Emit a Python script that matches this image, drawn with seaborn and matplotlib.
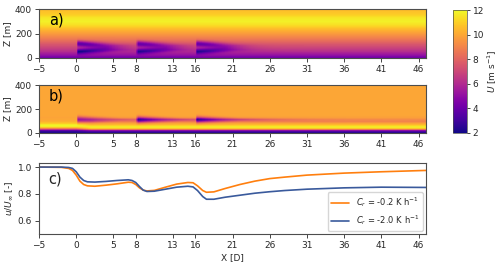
import numpy as np
import pandas as pd
import matplotlib
matplotlib.use("Agg")
import matplotlib.pyplot as plt
import seaborn as sns

sns.set_style("ticks")
plt.rcParams["font.family"] = ["DejaVu Sans"]
plt.rcParams["font.size"] = 6.5
plt.rcParams["axes.edgecolor"] = "0.3"
plt.rcParams["axes.linewidth"] = 0.8

# ---- panel c: hub-height velocity ratio ----
x_line = [-5, -2, -1, -0.5, 0, 0.5, 1, 1.5, 2.5, 4, 5.5, 7, 7.5, 8, 8.5, 9,
          9.5, 10.5, 12, 13.5, 15, 15.7, 16.3, 17, 17.5, 18.5, 20, 22, 24,
          26, 28, 31, 36, 41, 47]
u_cr02 = [1.0, 0.998, 0.99, 0.975, 0.94, 0.895, 0.87, 0.86, 0.857, 0.865,
          0.875, 0.887, 0.885, 0.87, 0.845, 0.828, 0.822, 0.826, 0.85, 0.873,
          0.885, 0.883, 0.86, 0.825, 0.812, 0.815, 0.84, 0.87, 0.895, 0.914,
          0.925, 0.94, 0.955, 0.965, 0.975]
u_cr20 = [1.0, 1.0, 0.997, 0.99, 0.965, 0.925, 0.9, 0.89, 0.888, 0.893, 0.9,
          0.905, 0.9, 0.885, 0.855, 0.828, 0.818, 0.82, 0.835, 0.85, 0.857,
          0.852, 0.825, 0.78, 0.76, 0.76, 0.775, 0.79, 0.805, 0.816, 0.825,
          0.835, 0.845, 0.85, 0.848]
labels = [r"$C_r$ = -0.2 K h$^{-1}$", r"$C_r$ = -2.0 K h$^{-1}$"]
line_colors = ["#ff7f0e", "#3a5a9c"]

# ---- panels a/b: inflow profiles of U [m/s] ----
z_prof_a = [0, 20, 50, 80, 110, 140, 170, 200, 240, 270, 300, 330, 360, 400]
u_prof_a = [4.0, 5.0, 6.0, 6.8, 7.5, 8.3, 9.0, 9.7, 10.6, 11.4, 11.8, 11.5,
            10.9, 10.5]
z_prof_b = [0, 10, 20, 30, 40, 50, 60, 70, 80, 95, 110, 130, 150, 400]
u_b_up = [2.2, 2.4, 3.8, 6.5, 9.5, 11.5, 12.0, 11.8, 11.0, 10.3, 10.0, 9.9,
          10.0, 10.0]
u_b_down = [2.2, 3.0, 5.0, 8.5, 11.3, 11.8, 11.2, 10.5, 10.0, 9.0, 9.2, 9.8,
            10.0, 10.0]

turbine_x = [0, 8, 16]
hub_z = 85
wake_a = [4.0, 3.6, 3.6]
wake_b = [5.0, 6.0, 5.5]

x_ticks = [-5, 0, 5, 8, 13, 16, 21, 26, 31, 36, 41, 46]

# ---- build fields ----
X = np.linspace(-5, 47, 521)
Z = np.linspace(0, 400, 201)
XX, ZZ = np.meshgrid(X, Z)

Ua = np.interp(ZZ, z_prof_a, u_prof_a)
for xt, s in zip(turbine_x, wake_a):
    dx = XX - xt
    on = np.clip(dx / 0.3, 0, 1)
    decay = np.exp(-(np.clip(dx, 0, None) / 5.0) ** 2)
    sep = 33 * np.clip(1 - dx / 8, 0.3, 1)
    lobes = (np.exp(-((ZZ - (hub_z + sep)) / 24) ** 2)
             + np.exp(-((ZZ - (hub_z - sep)) / 22) ** 2))
    Ua -= s * on * decay * np.clip(lobes, 0, 1.2)

w = np.clip(XX / 2, 0, 1)
Ub = (1 - w) * np.interp(ZZ, z_prof_b, u_b_up) + w * np.interp(ZZ, z_prof_b, u_b_down)
for xt, s in zip(turbine_x, wake_b):
    dx = XX - xt
    on = np.clip(dx / 0.3, 0, 1)
    decay = np.exp(-np.clip(dx, 0, None) / 5.5)
    width = 26 * np.clip(1 - dx / 12, 0.5, 1)
    lobe = np.exp(-((ZZ - 112) / width) ** 2)
    Ub -= s * on * decay * lobe

# ---- figure ----
fig = plt.figure(figsize=(5, 2.66), dpi=100)
ax_a = fig.add_axes([0.078, 0.782, 0.774, 0.184])
ax_b = fig.add_axes([0.078, 0.500, 0.774, 0.180])
ax_c = fig.add_axes([0.078, 0.120, 0.774, 0.267])
cax = fig.add_axes([0.906, 0.500, 0.028, 0.462])

for ax, U, tag in [(ax_a, Ua, "a)"), (ax_b, Ub, "b)")]:
    mesh = ax.pcolormesh(X, Z, U, cmap="plasma", vmin=2, vmax=12,
                         shading="auto", rasterized=True)
    ax.set_xlim(-5, 47)
    ax.set_ylim(0, 400)
    ax.set_yticks([0, 200, 400])
    ax.set_xticks(x_ticks)
    ax.set_ylabel("Z [m]", labelpad=2)
    ax.text(0.025, 0.93, tag, transform=ax.transAxes, fontsize=10.5,
            ha="left", va="top", color="black")

df = pd.DataFrame({
    "x": x_line * 2,
    "u": u_cr02 + u_cr20,
    "case": [labels[0]] * len(x_line) + [labels[1]] * len(x_line),
})
sns.lineplot(data=df, x="x", y="u", hue="case",
             palette=dict(zip(labels, line_colors)), linewidth=1.2, ax=ax_c)
ax_c.set_xlim(-5, 47)
ax_c.set_ylim(0.5, 1.03)
ax_c.set_yticks([0.6, 0.8, 1.0])
ax_c.set_xticks(x_ticks)
ax_c.set_xlabel("X [D]", labelpad=2)
ax_c.set_ylabel(r"$u/U_{\infty}$ [-]", labelpad=2)
ax_c.text(0.025, 0.88, "c)", transform=ax_c.transAxes, fontsize=10.5,
          ha="left", va="top")
leg = ax_c.legend(loc="lower right", fontsize=6, title=None, frameon=True,
                  handlelength=2.2, borderaxespad=0.4)
leg.get_frame().set_edgecolor("0.8")

cb = fig.colorbar(mesh, cax=cax, ticks=[2, 4, 6, 8, 10, 12])
cb.set_label(r"$U$ [m s$^{-1}$]", labelpad=1)
cb.outline.set_linewidth(0.5)

for ax in [ax_a, ax_b, ax_c]:
    ax.tick_params(labelsize=6.5, length=3, width=0.6, pad=2)
cax.tick_params(labelsize=6.5, length=2.5, width=0.6, pad=1.5)

fig.savefig("out.png", dpi=100)
